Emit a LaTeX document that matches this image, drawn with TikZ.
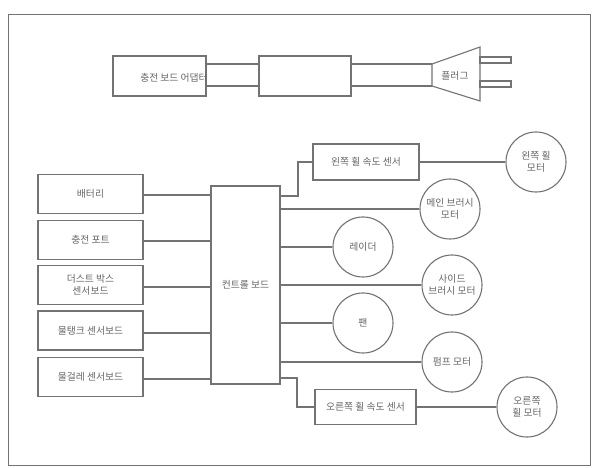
\documentclass[tikz,border=0pt]{standalone}
\usepackage{fontspec}
\setmainfont{Noto Sans CJK KR}
\begin{document}
\begin{tikzpicture}[x=1pt,y=-1pt,
  ln/.style={draw=black!55, line width=1.1pt},
  tf/.style={text=black!60, font=\fontsize{9.8}{12}\selectfont, align=center},
  lbl/.style={tf, inner sep=0pt},
  bx/.style={ln, rectangle, inner sep=0pt},
  cir/.style={ln, circle, minimum size=60pt, inner sep=0pt, tf}]
\useasboundingbox (0,0) rectangle (598,468);
\fill[white] (0,0) rectangle (598,468);
\draw[draw=black!55, line width=1pt] (8,15) rectangle (590,465);
% top: adapter
\coordinate (a1) at (113,56); \coordinate (a2) at (206,96);
\draw[ln] (a1) rectangle (a2);
\coordinate (m1) at (259,56); \coordinate (m2) at (351,96);
\draw[ln] (m1) rectangle (m2);
\node[lbl] (adapt) at (174,78) {충전 보드 어댑터};
\draw[ln] (206,64) -- (259,64) (206,86) -- (259,86);
\draw[ln] (351,64) -- (432,64) (351,86) -- (432,86);
\draw[ln] (432,64) -- (480,47) -- (480,101) -- (432,86) -- cycle;
\node[lbl] (plug) at (455,76) {플러그};
\draw[ln] (480,57) rectangle (511,63);
\draw[ln] (480,81) rectangle (511,87);
% control board
\node[bx, minimum width=69pt, minimum height=198pt] (cb) at (245.5,285) {};
\node[lbl] at (cb.center) {컨트롤 보드};
% left boxes
\tikzset{lb/.style={bx, minimum width=105pt, minimum height=39pt, tf}}
\node[lb] (b1) at (90.5,194) {배터리};
\node[lb] (b2) at (90.5,240) {충전 포트};
\node[lb] (b3) at (90.5,285) {더스트 박스\\센서보드};
\node[lb] (b4) at (90.5,330.5) {물탱크 센서보드};
\node[lb] (b5) at (90.5,377) {물걸레 센서보드};
\draw[ln] (b1.east |- 0,195) -- (cb.west |- 0,195);
\draw[ln] (b2.east |- 0,241) -- (cb.west |- 0,241);
\draw[ln] (b3.east |- 0,287) -- (cb.west |- 0,287);
\draw[ln] (b4.east |- 0,333) -- (cb.west |- 0,333);
\draw[ln] (b5.east |- 0,379) -- (cb.west |- 0,379);
% right side
\tikzset{rb/.style={bx, minimum height=36pt, tf}}
\node[rb, minimum width=106pt] (ls) at (366,162) {왼쪽 휠 속도 센서};
\node[cir] (lm) at (536,162) {왼쪽 휠\\모터};
\node[cir] (mb) at (450,209) {메인 브러시\\모터};
\node[cir] (rad) at (363,247) {레이더};
\node[cir] (sb) at (452,285) {사이드\\브러시 모터};
\node[cir] (fan) at (363,323) {팬};
\node[cir] (pm) at (452,362) {펌프 모터};
\node[rb, minimum width=101pt, minimum height=35pt] (rs) at (365.5,407) {오른쪽 휠 속도 센서};
\node[cir] (rm) at (527,407) {오른쪽\\휠 모터};
\draw[ln] (cb.east |- 0,196) -- (298,196) -- (298,162) -- (ls.west);
\draw[ln] (ls.east) -- (lm.west);
\draw[ln] (cb.east |- 0,209) -- (mb.west);
\draw[ln] (cb.east |- 0,247) -- (rad.west);
\draw[ln] (cb.east |- 0,285) -- (sb.west);
\draw[ln] (cb.east |- 0,323) -- (fan.west);
\draw[ln] (cb.east |- 0,362) -- (pm.west);
\draw[ln] (cb.east |- 0,378) -- (297,378) -- (297,407) -- (rs.west);
\draw[ln] (rs.east) -- (rm.west);
\end{tikzpicture}
\end{document}
